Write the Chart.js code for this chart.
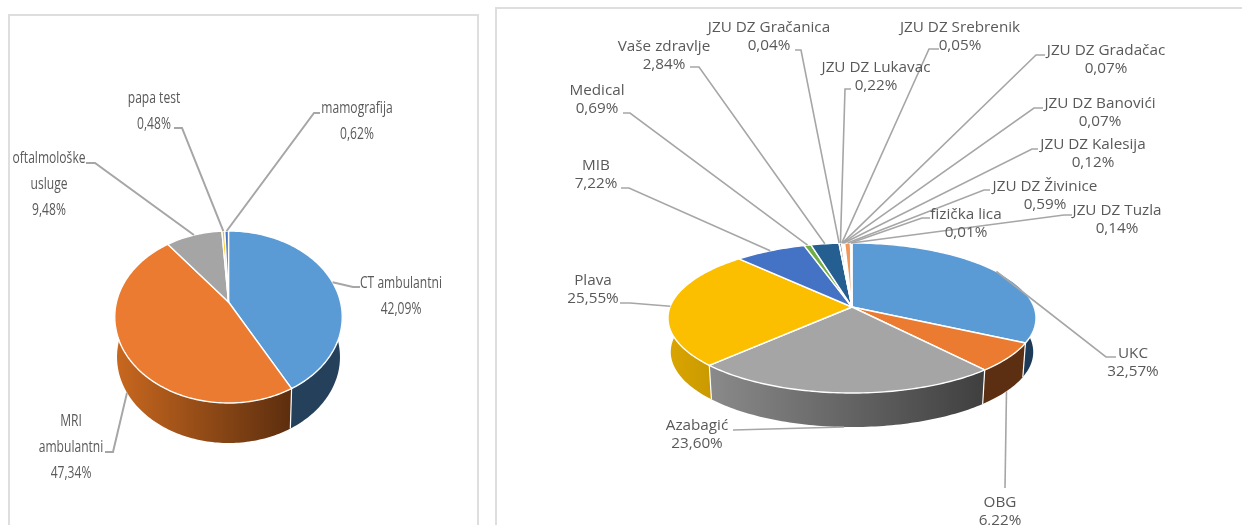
<!DOCTYPE html>
<html><head><meta charset="utf-8">
<style>
html,body{margin:0;padding:0;background:#fff;width:1242px;height:525px;overflow:hidden}
.frame{position:absolute;box-sizing:border-box;border:2px solid #dedede;border-bottom:none;background:#fff}
canvas{position:absolute;display:block;filter:blur(0.35px)}
</style>
<script src="https://cdn.jsdelivr.net/npm/chart.js@4"></script>
</head><body>
<div class="frame" style="left:8px;top:14px;width:471px;height:511px"></div>
<div class="frame" style="left:495px;top:7px;width:760px;height:518px"></div>
<div style="position:absolute;left:0;top:0;width:486px;height:525px"><canvas id="a"></canvas></div>
<div style="position:absolute;left:486px;top:0;width:756px;height:525px"><canvas id="b"></canvas></div>
<script>
// ---- data ----
const leftCategories=['CT ambulantni','MRI ambulantni','oftalmološke usluge','papa test','mamografija'];
const leftValues=[42.09,47.34,9.48,0.48,0.62];
const leftColors=['#5B9BD5','#EA7B30','#A5A5A5','#FFC000','#4472C4'];
const rightCategories=['UKC','OBG','Azabagić','Plava','MIB','Medical','Vaše zdravlje','JZU DZ Gračanica','JZU DZ Lukavac','JZU DZ Srebrenik','JZU DZ Gradačac','JZU DZ Banovići','JZU DZ Kalesija','JZU DZ Živinice','fizička lica','JZU DZ Tuzla'];
const rightValues=[32.57,6.22,23.60,25.55,7.22,0.69,2.84,0.04,0.22,0.05,0.07,0.07,0.12,0.59,0.01,0.14];
const rightColors=['#5B9BD5','#EA7B30','#A5A5A5','#FBBF00','#4472C4','#70AD47','#255E91','#9E480E','#636363','#997300','#264478','#43682B','#7CAFDD','#F1975A','#B7B7B7','#FFCD33'];

// ---- styling / layout of the two pictures (page coordinates) ----
const leftView={ox:0,cx:228.5,cy:302,A:112,B:83.4,k:0.1744,depth:40,baseScale:0.98,
 walls:[['#25405a','#25405a'],['#c9681f','#5c2e0e'],['#888','#888'],['#888','#888'],['#888','#888']],
 font:'17px "Open Sans"',sx:0.71,lh:26,lineWidth:2,
 labels:[
  {lines:['CT ambulantni','42,09%'],x:401,y:283,path:[[353,287],[360,287]]},
  {lines:['MRI','ambulantni','47,34%'],x:71,y:421,path:[[113,452],[105,452]],wall:true},
  {lines:['oftalmološke','usluge','9,48%'],x:49,y:158,path:[[95,163],[86,163]]},
  {lines:['papa test','0,48%'],x:154,y:98,path:[[182,128],[174,128]]},
  {lines:['mamografija','0,62%'],x:357,y:108,path:[[314,113],[320,113]]}
 ]};
const rightView={ox:486,cx:852,cy:307,A:182,B:73.4,k:0.1467,depth:34,baseScale:0.985,
 walls:[['#1d3b58','#1d3b58'],['#5c2f12','#5c2f12'],['#8a8a8a','#3f3f3f'],['#dba500','#c99a00'],['#2a4a80','#2a4a80'],['#445','#445'],['#163a5a','#163a5a'],['#555','#555'],['#555','#555'],['#555','#555'],['#555','#555'],['#555','#555'],['#555','#555'],['#555','#555'],['#555','#555'],['#555','#555']],
 font:'14px "Open Sans"',sx:1.09,lh:17.8,lineWidth:1.6,
 labels:[
  {lines:['UKC','32,57%'],x:1133,y:354,path:[[1106,357],[1116,357]]},
  {lines:['OBG','6,22%'],x:1000,y:503,path:[[1005,488]],wall:true},
  {lines:['Azabagić','23,60%'],x:697,y:426,path:[[733,430]],wall:true},
  {lines:['Plava','25,55%'],x:593,y:281,path:[[630,303],[620,303]]},
  {lines:['MIB','7,22%'],x:596,y:166,path:[[629,188],[621,188]]},
  {lines:['Medical','0,69%'],x:597,y:91,path:[[630,113],[623,113]]},
  {lines:['Vaše zdravlje','2,84%'],x:664,y:47,path:[[699,67],[690,67]]},
  {lines:['JZU DZ Gračanica','0,04%'],x:769,y:28,path:[[801,50],[795,50]]},
  {lines:['JZU DZ Lukavac','0,22%'],x:876,y:68,path:[[845,89],[851,89]]},
  {lines:['JZU DZ Srebrenik','0,05%'],x:960,y:28,path:[[929,49],[939,49]]},
  {lines:['JZU DZ Gradačac','0,07%'],x:1106,y:51,path:[[1036,55],[1045,55]]},
  {lines:['JZU DZ Banovići','0,07%'],x:1100,y:104,path:[[1034,108],[1043,108]]},
  {lines:['JZU DZ Kalesija','0,12%'],x:1093,y:145,path:[[1032,149],[1038,149]]},
  {lines:['JZU DZ Živinice','0,59%'],x:1045,y:187,path:[[984,190],[990,190]]},
  {lines:['fizička lica','0,01%'],x:966,y:215,path:[[922,218],[930,218]]},
  {lines:['JZU DZ Tuzla','0,14%'],x:1117,y:211,path:[[1064,215],[1072,215]]}
 ]};

// perspective projection of a point of the unit disc lying on the pie's top face
function project(v,u,w,base){
  const d=1-v.k*w, s=base?v.baseScale:1;
  return [v.cx-v.ox+s*v.A*u/d, v.cy+(base?v.depth:0)+v.B*w/d];
}
function rim(v,a0,a1,base){
  const n=Math.max(2,Math.ceil(Math.abs(a1-a0)/0.02)),pts=[];
  for(let i=0;i<=n;i++){const a=a0+(a1-a0)*i/n;pts.push(project(v,Math.cos(a),Math.sin(a),base));}
  return pts;
}
const pie3d={id:'pie3d',
 beforeDatasetDraw(chart,args,opts){
  const v=opts.view,ctx=chart.ctx,arcs=chart.getDatasetMeta(0).data,colors=chart.data.datasets[0].backgroundColor;
  ctx.save();
  // side walls
  arcs.forEach((arc,i)=>{
    const p=arc.getProps(['startAngle','endAngle'],true);
    const a0=Math.max(p.startAngle,-0.05),a1=Math.min(p.endAngle,Math.PI+0.05);
    if(a1<=a0) return;
    const top=rim(v,a0,a1,false),bot=rim(v,a0,a1,true);
    const xs=top.concat(bot).map(q=>q[0]);
    const g=ctx.createLinearGradient(Math.min(...xs),0,Math.max(...xs),0);
    g.addColorStop(0,v.walls[i][0]);g.addColorStop(1,v.walls[i][1]);
    ctx.beginPath();
    top.forEach((q,j)=>j?ctx.lineTo(q[0],q[1]):ctx.moveTo(q[0],q[1]));
    bot.reverse().forEach(q=>ctx.lineTo(q[0],q[1]));
    ctx.closePath();ctx.fillStyle=g;ctx.fill();
  });
  // white seams between the walls
  ctx.strokeStyle='#fff';ctx.lineWidth=1.2;
  arcs.forEach(arc=>{
    const a=arc.getProps(['endAngle'],true).endAngle;
    if(a<0||a>Math.PI) return;
    const t=project(v,Math.cos(a),Math.sin(a),false),b=project(v,Math.cos(a),Math.sin(a),true);
    ctx.beginPath();ctx.moveTo(t[0],t[1]);ctx.lineTo(b[0],b[1]);ctx.stroke();
  });
  // top faces, from the library's computed angles
  arcs.forEach((arc,i)=>{
    const p=arc.getProps(['startAngle','endAngle'],true);
    const c=project(v,0,0,false),pts=rim(v,p.startAngle,p.endAngle,false);
    ctx.beginPath();ctx.moveTo(c[0],c[1]);
    pts.forEach(q=>ctx.lineTo(q[0],q[1]));
    ctx.closePath();
    ctx.fillStyle=colors[i];ctx.fill();
    ctx.strokeStyle='#fff';ctx.lineWidth=1.4;ctx.lineJoin='round';ctx.stroke();
  });
  ctx.restore();
  return false;
 },
 afterDatasetsDraw(chart,args,opts){
  const v=opts.view,ctx=chart.ctx,arcs=chart.getDatasetMeta(0).data;
  ctx.save();
  // leader lines
  ctx.strokeStyle='#a6a6a6';ctx.lineWidth=v.lineWidth;
  v.labels.forEach((l,i)=>{
    const p=arcs[i].getProps(['startAngle','endAngle'],true),a=(p.startAngle+p.endAngle)/2;
    const s=project(v,Math.cos(a),Math.sin(a),!!l.wall);
    ctx.beginPath();ctx.moveTo(s[0],s[1]);
    l.path.forEach(q=>ctx.lineTo(q[0]-v.ox,q[1]));
    ctx.stroke();
  });
  // labels
  ctx.fillStyle='#595959';ctx.font=v.font;ctx.textAlign='center';ctx.textBaseline='middle';
  v.labels.forEach(l=>{
    l.lines.forEach((t,j)=>{
      ctx.save();ctx.translate(l.x-v.ox,l.y+j*v.lh);ctx.scale(v.sx,1);
      ctx.fillText(t,0,0);ctx.restore();
    });
  });
  ctx.restore();
 }
};
function build(id,labels,values,colors,view){
  return new Chart(document.getElementById(id),{
    type:'pie',
    data:{labels,datasets:[{data:values,backgroundColor:colors,borderColor:'#fff',borderWidth:1}]},
    options:{responsive:true,maintainAspectRatio:false,animation:false,
      plugins:{legend:{display:false},tooltip:{enabled:false},pie3d:{view}}},
    plugins:[pie3d]
  });
}
build('a',leftCategories,leftValues,leftColors,leftView);
build('b',rightCategories,rightValues,rightColors,rightView);
</script>
</body></html>
